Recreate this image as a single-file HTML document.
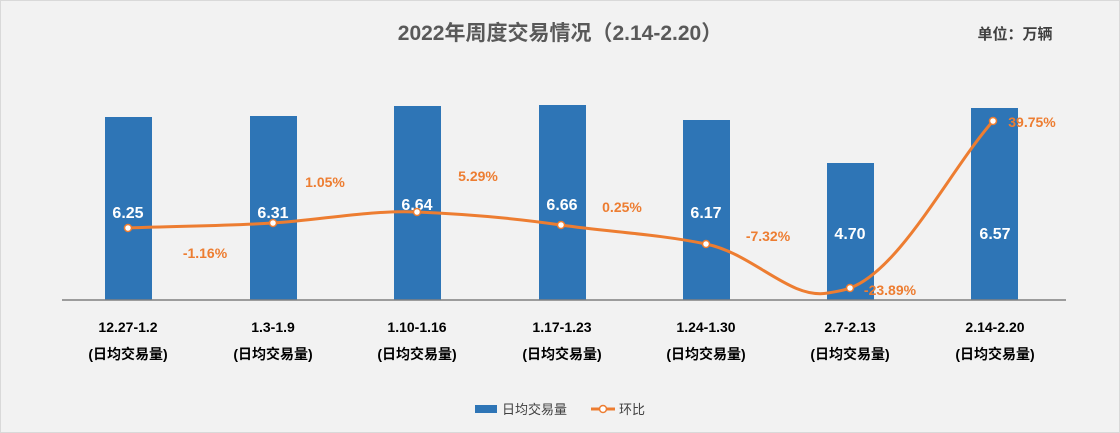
<!DOCTYPE html>
<html><head><meta charset="utf-8"><style>
html,body{margin:0;padding:0;background:#f2f2f2;}
svg{display:block;}
text{font-family:"Liberation Sans","Noto Sans CJK SC",sans-serif;}
</style></head><body>
<svg width="1120" height="433" viewBox="0 0 1120 433">
<rect x="0.5" y="0.5" width="1119" height="432" fill="#f2f2f2" stroke="#d9d9d9"/>
<text x="560" y="40" text-anchor="middle" font-size="21" font-weight="bold" fill="#595959">2022年周度交易情况（2.14-2.20）</text>
<text x="1015" y="39" text-anchor="middle" font-size="15" font-weight="bold" fill="#404040">单位：万辆</text>
<g fill="#2e75b6">
<rect x="105" y="117" width="47" height="183"/>
<rect x="250" y="116" width="47" height="184"/>
<rect x="394" y="106" width="47" height="194"/>
<rect x="539" y="105" width="47" height="195"/>
<rect x="683" y="120" width="47" height="180"/>
<rect x="827" y="163" width="47" height="137"/>
<rect x="971" y="108" width="47" height="192"/>
</g>
<line x1="62" y1="300" x2="1066" y2="300" stroke="#808080" stroke-width="1.5"/>
<g font-size="16" font-weight="bold" fill="#fff" text-anchor="middle">
<text x="128" y="218">6.25</text>
<text x="273" y="218">6.31</text>
<text x="417" y="210">6.64</text>
<text x="562" y="210">6.66</text>
<text x="706" y="218">6.17</text>
<text x="850" y="239">4.70</text>
<text x="995" y="239">6.57</text>
</g>
<path d="M128,228 C176,226 225,226 273,223 C321,220 369,210 417,212 C465,214 513,218 561,225 C609,232 658,234 706,244 C754,254 790,300 828,293 C840,291 845,290 850,288 C900,270 950,170 993,121" fill="none" stroke="#ed7d31" stroke-width="3"/>
<g fill="#fff" stroke="#ed7d31" stroke-width="1.5">
<circle cx="128" cy="228" r="3.5"/><circle cx="273" cy="223" r="3.5"/><circle cx="417" cy="212" r="3.5"/>
<circle cx="561" cy="225" r="3.5"/><circle cx="706" cy="244" r="3.5"/><circle cx="850" cy="288" r="3.5"/>
<circle cx="993" cy="121" r="3.5"/>
</g>
<g font-size="14" font-weight="bold" fill="#ed7d31" text-anchor="middle">
<text x="205" y="258">-1.16%</text>
<text x="325" y="187">1.05%</text>
<text x="478" y="181">5.29%</text>
<text x="622" y="212">0.25%</text>
<text x="768" y="241">-7.32%</text>
<text x="890" y="295">-23.89%</text>
<text x="1032" y="127">39.75%</text>
</g>
<g font-size="14" font-weight="bold" fill="#000" text-anchor="middle">
<text x="128" y="332">12.27-1.2</text><text x="128" y="359">(日均交易量)</text>
<text x="273" y="332">1.3-1.9</text><text x="273" y="359">(日均交易量)</text>
<text x="417" y="332">1.10-1.16</text><text x="417" y="359">(日均交易量)</text>
<text x="562" y="332">1.17-1.23</text><text x="562" y="359">(日均交易量)</text>
<text x="706" y="332">1.24-1.30</text><text x="706" y="359">(日均交易量)</text>
<text x="850" y="332">2.7-2.13</text><text x="850" y="359">(日均交易量)</text>
<text x="995" y="332">2.14-2.20</text><text x="995" y="359">(日均交易量)</text>
</g>
<rect x="475" y="405" width="22" height="8" fill="#2e75b6"/>
<text x="502" y="414" font-size="13" fill="#404040">日均交易量</text>
<line x1="591" y1="409" x2="615" y2="409" stroke="#ed7d31" stroke-width="3"/>
<circle cx="603" cy="409" r="3.5" fill="#fff" stroke="#ed7d31" stroke-width="1.5"/>
<text x="619" y="414" font-size="13" fill="#404040">环比</text>
</svg>
</body></html>
